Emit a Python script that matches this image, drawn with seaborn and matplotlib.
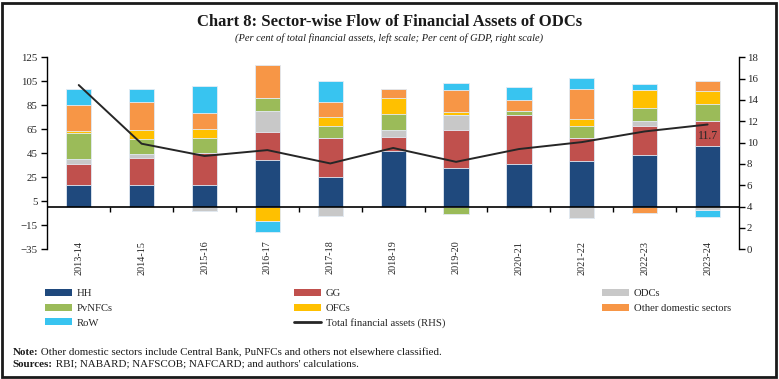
import numpy as np
import pandas as pd
import matplotlib.pyplot as plt
import seaborn as sns
from matplotlib.patches import Patch, Rectangle
from matplotlib.lines import Line2D
from matplotlib.transforms import blended_transform_factory

sns.set_theme(style="white")
plt.rcParams["font.family"] = ["Liberation Serif", "DejaVu Serif"]

# data
years = ["2013-14", "2014-15", "2015-16", "2016-17", "2017-18", "2018-19",
         "2019-20", "2020-21", "2021-22", "2022-23", "2023-24"]
hh = [18.9, 18.9, 18.3, 39.2, 25.6, 47.2, 32.5, 36.1, 38.3, 43.9, 51.4]
gg = [16.9, 22.2, 27.3, 23.6, 32.5, 11.7, 31.7, 40.6, 19.7, 24.2, 20.8]
odcs = [4.7, 3.3, -2.8, 17.8, -7.2, 5.5, 13.0, 0.0, -9.2, 4.2, -2.4]
pvnfcs = [21.1, 12.3, 12.2, 10.5, 9.7, 13.7, -5.6, 3.9, 9.7, 10.8, 14.2]
ofcs = [2.2, 8.0, 7.8, -11.1, 7.8, 13.0, 1.9, -0.6, 5.6, 15.0, 10.8]
other = [21.4, 22.8, 13.0, 27.8, 12.2, 7.8, 18.9, 8.9, 25.0, -4.4, 8.1]
row = [13.6, 11.4, 22.5, -9.7, 17.8, 0.0, 5.8, 10.6, 9.2, 4.4, -5.9]
total = [15.4, 9.9, 8.75, 9.3, 8.05, 9.5, 8.2, 9.4, 10.05, 11.05, 11.7]

sectors = ["HH", "GG", "ODCs", "PvNFCs", "OFCs", "Other domestic sectors", "RoW"]
colors = ["#1F497D", "#C0504D", "#C8C8C8", "#9BBB59", "#FFC000", "#F79646", "#38C4F0"]
palette = dict(zip(sectors, colors))

df = pd.DataFrame(dict(zip(sectors, [hh, gg, odcs, pvnfcs, ofcs, other, row])), index=years)
pos = df.clip(lower=0).cumsum(axis=1)
neg = df.clip(upper=0).cumsum(axis=1)

fig = plt.figure(figsize=(7.79, 3.79), dpi=100)
ax = fig.add_axes([0.0607, 0.3422, 0.9487 - 0.0607, 0.8488 - 0.3422])

# stacked bars: draw the cumulative totals from the top layer down
for s in reversed(sectors):
    for cum in (pos, neg):
        sns.barplot(x=years, y=cum[s].values, color=palette[s], width=0.4,
                    saturation=1, errorbar=None, edgecolor="#e4ecf5",
                    linewidth=0.6, ax=ax)

ax.set_xlim(-0.5, len(years) - 0.5)
ax.set_ylim(-35, 125)
ax.set_yticks(np.arange(-35, 126, 20))
ax.set_xlabel("")
ax.set_ylabel("")
ax.tick_params(axis="x", bottom=False, labelbottom=False)
ax.tick_params(axis="y", left=True, direction="out", length=4, width=1,
               color="black", labelsize=7.8, pad=3, labelcolor="#262626")
for side in ["top", "right", "bottom"]:
    ax.spines[side].set_visible(False)
ax.spines["left"].set_color("black")
ax.spines["left"].set_linewidth(1)

ax.axhline(0, color="black", lw=1.2, zorder=5)
ax.vlines(np.arange(len(years) - 1) + 0.5, -4.2, 0, color="black", lw=1, zorder=5)

trans = blended_transform_factory(ax.transData, ax.transAxes)
for i, y in enumerate(years):
    ax.text(i, 0.045, y, rotation=90, ha="center", va="top", fontsize=7.3,
            color="#262626", transform=trans)

# total financial assets on right axis
ax2 = ax.twinx()
sns.lineplot(x=np.arange(len(years)), y=total, ax=ax2, color="#262626", lw=1.4)
ax2.set_xlim(-0.5, len(years) - 0.5)
ax2.set_ylim(0, 18)
ax2.set_yticks(np.arange(0, 19, 2))
ax2.tick_params(axis="y", right=True, direction="out", length=4, width=1,
                color="black", labelsize=7.8, pad=1.5, labelcolor="#262626")
ax2.tick_params(axis="x", bottom=False, labelbottom=False)
for side in ["top", "left", "bottom"]:
    ax2.spines[side].set_visible(False)
ax2.spines["right"].set_color("black")
ax2.spines["right"].set_linewidth(1)
ax2.annotate(f"{total[-1]:.1f}", xy=(len(years) - 1, total[-1]), xytext=(0, -8),
             textcoords="offset points", ha="center", va="center", fontsize=8.5,
             color="#262626")

# titles
fig.text(0.5, 1 - 21.7 / 379, "Chart 8: Sector-wise Flow of Financial Assets of ODCs",
         ha="center", va="center", fontsize=12, weight="bold", color="#1a1a1a")
fig.text(0.5, 1 - 38 / 379,
         "(Per cent of total financial assets, left scale; Per cent of GDP, right scale)",
         ha="center", va="center", fontsize=7.5, style="italic", color="#1a1a1a")

# legend, three columns
def patch(s):
    return Patch(facecolor=palette[s], edgecolor="none", label=s)

cols = [
    [patch("HH"), patch("PvNFCs"), patch("RoW")],
    [patch("GG"), patch("OFCs"),
     Line2D([], [], color="#262626", lw=2, label="Total financial assets (RHS)")],
    [patch("ODCs"), patch("Other domestic sectors")],
]
xs = [45, 294, 602]
for h, x in zip(cols, xs):
    fig.legend(handles=h, loc="upper left", bbox_to_anchor=(x / 779, 1 - 289 / 379),
               frameon=False, fontsize=7.7, borderpad=0, borderaxespad=0,
               handlelength=2.5, handleheight=0.65, handletextpad=0.45,
               labelspacing=0.5)

# notes
fig.canvas.draw()
r = fig.canvas.get_renderer()
for yy, head, rest in [(352.7, "Note:", " Other domestic sectors include Central Bank, PuNFCs and others not elsewhere classified."),
                       (364.3, "Sources:", " RBI; NABARD; NAFSCOB; NAFCARD; and authors' calculations.")]:
    t = fig.text(12.7 / 779, 1 - yy / 379, head, ha="left", va="center",
                 fontsize=7.9, weight="bold", color="#1a1a1a")
    bb = t.get_window_extent(r)
    fig.text(bb.x1 / 779, 1 - yy / 379, rest, ha="left", va="center",
             fontsize=7.9, color="#1a1a1a")

fig.patches.append(Rectangle((0.002, 0.005), 0.994, 0.988, transform=fig.transFigure,
                             fill=False, lw=2, ec="#1a1a1a"))

fig.savefig("out.png", dpi=100)
